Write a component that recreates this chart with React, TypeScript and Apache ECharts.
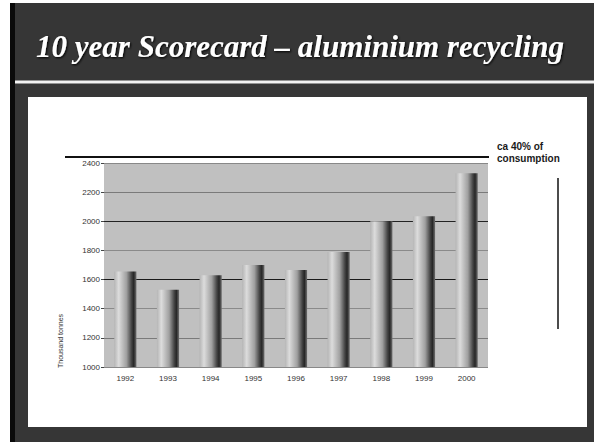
import React, { useEffect, useRef } from "react";
import * as echarts from "echarts";

const years = ["1992", "1993", "1994", "1995", "1996", "1997", "1998", "1999", "2000"];
const recycled = [1655, 1530, 1630, 1700, 1665, 1790, 2000, 2035, 2330];
const yMin = 1000;
const yMax = 2400;
const yStep = 200;
const titleText = "10 year Scorecard \u2013 aluminium recycling";
const axisTitle = "Thousand tonnes";
const noteText = "ca 40% of\nconsumption";
const gridColors = ["#888", "#7a7a7a", "#8a8a8a", "#1a1a1a", "#8a8a8a", "#222", "#7a7a7a", "#888"];

export default function App() {
  const ref = useRef<HTMLDivElement>(null);
  useEffect(() => {
    if (!ref.current) return;
    const chart = echarts.init(ref.current, undefined, { renderer: "svg" });
    const barColor = new echarts.graphic.LinearGradient(0, 0, 1, 0, [
      { offset: 0, color: "#b5b5b5" },
      { offset: 0.2, color: "#dcdcdc" },
      { offset: 0.55, color: "#a0a0a0" },
      { offset: 0.78, color: "#444" },
      { offset: 0.88, color: "#262626" },
      { offset: 1, color: "#707070" },
    ]);
    chart.setOption({
      animation: false,
      backgroundColor: "#ffffff",
      graphic: [
        { type: "rect", z: -100, shape: { x: 10, y: 3, width: 584, height: 439 }, style: { fill: "#363636" } },
        { type: "rect", z: -99, shape: { x: 10, y: 3, width: 5, height: 439 }, style: { fill: "#0a0a0a" } },
        { type: "rect", z: -99, shape: { x: 28, y: 97, width: 559, height: 330 }, style: { fill: "#ffffff" } },
        { type: "line", z: -98, shape: { x1: 15, y1: 82, x2: 594, y2: 82 }, style: { stroke: "#f2f2f2", lineWidth: 3 } },
        {
          type: "text",
          x: 300,
          y: 46,
          style: {
            text: titleText,
            fill: "#ffffff",
            font: "italic bold 31px 'Liberation Serif', serif",
            align: "center",
            verticalAlign: "middle",
            textShadowColor: "#000",
            textShadowBlur: 2,
            textShadowOffsetX: 1,
            textShadowOffsetY: 1,
          },
        },
        { type: "line", shape: { x1: 65, y1: 157, x2: 489, y2: 157 }, style: { stroke: "#111", lineWidth: 2 } },
        {
          type: "text",
          x: 60,
          y: 368,
          rotation: Math.PI / 2,
          style: {
            text: axisTitle,
            fill: "#333",
            font: "7px 'Liberation Sans', Arial, sans-serif",
            align: "left",
            verticalAlign: "middle",
          },
        },
        {
          type: "text",
          x: 497,
          y: 140,
          style: {
            text: noteText,
            fill: "#1a1a1a",
            font: "bold 10px 'Liberation Sans', Arial, sans-serif",
            lineHeight: 12,
            align: "left",
            verticalAlign: "top",
          },
        },
        { type: "line", shape: { x1: 558, y1: 178, x2: 558, y2: 329 }, style: { stroke: "#111", lineWidth: 1.5 } },
      ],
      grid: {
        left: 104,
        right: 111,
        top: 163,
        bottom: 77,
        show: true,
        backgroundColor: "#c0c0c0",
        borderWidth: 0,
      },
      xAxis: {
        type: "category",
        data: years,
        axisLine: { show: false },
        axisTick: { show: false },
        axisLabel: {
          color: "#333",
          fontSize: 8,
          fontFamily: "'Liberation Sans', Arial, sans-serif",
          margin: 7,
        },
      },
      yAxis: {
        type: "value",
        min: yMin,
        max: yMax,
        interval: yStep,
        axisLine: { show: false },
        axisTick: { show: true, length: 3, lineStyle: { color: "#444" } },
        axisLabel: {
          color: "#333",
          fontSize: 8,
          fontFamily: "'Liberation Sans', Arial, sans-serif",
          margin: 4,
          formatter: (v: number) => String(v),
        },
        splitLine: { show: true, lineStyle: { color: gridColors, width: 1 } },
      },
      series: [
        {
          type: "bar",
          data: recycled,
          barWidth: "52%",
          itemStyle: { color: barColor },
        },
      ],
    });
    return () => chart.dispose();
  }, []);
  return (
    <div
      ref={ref}
      style={{ position: "fixed", left: 0, top: 0, width: 599, height: 444 }}
    />
  );
}
